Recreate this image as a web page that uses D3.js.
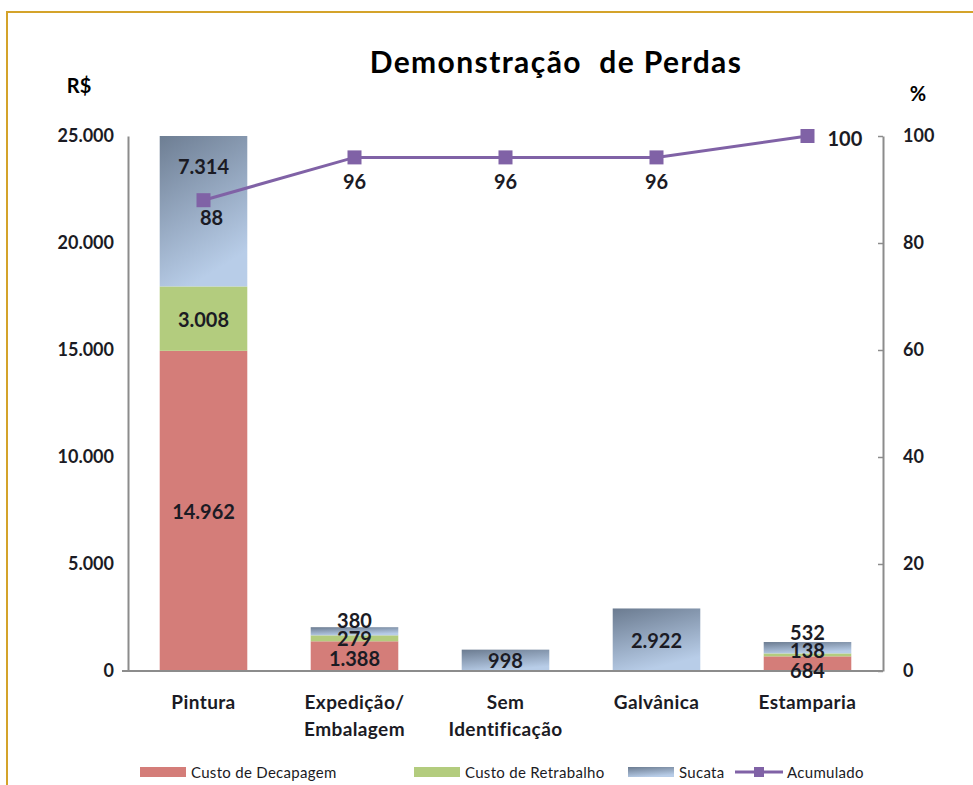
<!DOCTYPE html>
<html>
<head>
<meta charset="utf-8">
<script src="https://cdn.jsdelivr.net/npm/d3@7"></script>
<style>
  body { margin: 0; background: #fff; }
  svg { display: block; }
  text { font-family: Lato, "Open Sans", sans-serif; fill: #1b1b24; }
</style>
</head>
<body>
<div id="chart"></div>
<script>
// data
var categories = ["Pintura", "Expedição/\nEmbalagem", "Sem\nIdentificação", "Galvânica", "Estamparia"];
var decapagem = [14962, 1388, 0, 0, 684];
var retrabalho = [3008, 279, 0, 0, 138];
var sucata = [7314, 380, 998, 2922, 532];
var acumulado = [88, 96, 96, 96, 100];
var seriesNames = ["Custo de Decapagem", "Custo de Retrabalho", "Sucata", "Acumulado"];
var leftTicks = [0, 5000, 10000, 15000, 20000, 25000];
var rightTicks = [0, 20, 40, 60, 80, 100];

// label nudges (pixels) where Excel pushed labels apart
var labelShift = [
    [0, 0, -45],
    [2, 0, -11],
    [0, 0, 0],
    [0, 0, 0],
    [6, -5, -16]
];
var pctShift = [17, 24, 24, 24, 2];

var width = 973, height = 785;
var margin = {top: 136, right: 90, bottom: 114, left: 128};

var svg = d3.select("#chart").append("svg")
    .attr("width", width)
    .attr("height", height);

// gradient for sucata
var defs = svg.append("defs");
var grad = defs.append("linearGradient")
    .attr("id", "gSucata")
    .attr("x1", 0).attr("y1", 0).attr("x2", 0.35).attr("y2", 1);
grad.append("stop").attr("offset", "0%").attr("stop-color", "#6b7b90");
grad.append("stop").attr("offset", "100%").attr("stop-color", "#b8cde8");

var clip = defs.append("clipPath").attr("id", "plotClip");

// outer border
svg.append("rect")
    .attr("x", 7).attr("y", 12)
    .attr("width", 1000).attr("height", 1000)
    .attr("fill", "none")
    .attr("stroke", "#d4a32a")
    .attr("stroke-width", 2);

var plotW = width - margin.left - margin.right;
var plotH = height - margin.top - margin.bottom;

clip.append("rect").attr("x", margin.left).attr("y", margin.top)
    .attr("width", plotW).attr("height", plotH);

var x = d3.scaleBand()
    .domain(d3.range(categories.length))
    .range([margin.left, margin.left + plotW])
    .paddingInner(0.42)
    .paddingOuter(0.21);

var y = d3.scaleLinear().domain([0, 25000]).range([margin.top + plotH, margin.top]);
var y2 = d3.scaleLinear().domain([0, 100]).range([margin.top + plotH, margin.top]);

var colors = ["#d47d79", "#b3cc7e", "url(#gSucata)"];
var stackData = categories.map(function (c, i) {
    return {i: i, decapagem: decapagem[i], retrabalho: retrabalho[i], sucata: sucata[i]};
});
var stack = d3.stack().keys(["decapagem", "retrabalho", "sucata"])(stackData);

// bars
var gBars = svg.append("g").attr("clip-path", "url(#plotClip)");
stack.forEach(function (layer, k) {
    gBars.selectAll(null)
        .data(layer)
        .enter()
        .append("rect")
        .attr("x", function (d) { return x(d.data.i); })
        .attr("width", x.bandwidth())
        .attr("y", function (d) { return y(d[1]); })
        .attr("height", function (d) { return y(d[0]) - y(d[1]); })
        .attr("fill", colors[k]);
});

// axes
var fmt = function (v) { return d3.format(",")(v).replace(/,/g, "."); };
var axisL = svg.append("g")
    .attr("transform", "translate(" + margin.left + ",0)")
    .call(d3.axisLeft(y).tickValues(leftTicks).tickSize(0).tickPadding(14).tickFormat(fmt));
var axisR = svg.append("g")
    .attr("transform", "translate(" + (margin.left + plotW) + ",0)")
    .call(d3.axisRight(y2).tickValues(rightTicks).tickSize(0).tickPadding(20));
axisR.selectAll(".tick line").attr("x1", -5).attr("x2", 0);
[axisL, axisR].forEach(function (a) {
    a.select(".domain").attr("stroke", "#8c8c8c").attr("stroke-width", 2);
    a.selectAll(".tick line").attr("stroke", "#8c8c8c").attr("stroke-width", 1.5);
    a.selectAll("text")
        .style("font-size", "18px")
        .style("font-weight", "bold")
        .style("fill", "#1b1b24")
        .style("font-family", "Lato, sans-serif");
});

// baseline
svg.append("line")
    .attr("x1", margin.left - 6).attr("x2", margin.left + plotW)
    .attr("y1", y(0)).attr("y2", y(0))
    .attr("stroke", "#8c8c8c").attr("stroke-width", 2);

// bar value labels
var gLab = svg.append("g");
stack.forEach(function (layer, k) {
    layer.forEach(function (d) {
        var v = d[1] - d[0];
        if (v <= 0) return;
        var yc = (y(d[0]) + y(Math.min(d[1], 25000))) / 2;
        gLab.append("text")
            .attr("x", x(d.data.i) + x.bandwidth() / 2)
            .attr("y", yc + labelShift[d.data.i][k])
            .attr("text-anchor", "middle")
            .attr("dominant-baseline", "central")
            .style("font-size", "20px")
            .style("font-weight", "bold")
            .text(fmt(v));
    });
});

// accumulated line
var cx = function (i) { return x(i) + x.bandwidth() / 2; };
svg.append("path")
    .datum(acumulado)
    .attr("fill", "none")
    .attr("stroke", "#8062a6")
    .attr("stroke-width", 3)
    .attr("d", d3.line().x(function (d, i) { return cx(i); }).y(function (d) { return y2(d); }));
svg.selectAll(".mk")
    .data(acumulado)
    .enter()
    .append("rect")
    .attr("class", "mk")
    .attr("x", function (d, i) { return cx(i) - 7; })
    .attr("y", function (d) { return y2(d) - 7; })
    .attr("width", 14).attr("height", 14)
    .attr("fill", "#8062a6");
var last = acumulado.length - 1;
svg.selectAll(".pl")
    .data(acumulado)
    .enter()
    .append("text")
    .attr("x", function (d, i) { return i === last ? cx(i) + 20 : cx(i) + (i === 0 ? 8 : 0); })
    .attr("y", function (d, i) { return y2(d) + pctShift[i]; })
    .attr("text-anchor", function (d, i) { return i === last ? "start" : "middle"; })
    .attr("dominant-baseline", "central")
    .style("font-size", "20px")
    .style("font-weight", "bold")
    .text(function (d) { return d; });

// category labels
categories.forEach(function (c, i) {
    var t = svg.append("text")
        .attr("x", cx(i))
        .attr("y", y(0) + 38)
        .attr("text-anchor", "middle")
        .style("font-size", "19px")
        .style("font-weight", "bold")
        .style("letter-spacing", "0.4px");
    c.split("\n").forEach(function (line, j) {
        t.append("tspan").attr("x", cx(i)).attr("dy", j === 0 ? 0 : 27).text(line);
    });
});

// titles
svg.append("text")
    .attr("x", 556).attr("y", 73)
    .attr("text-anchor", "middle")
    .style("font-size", "30px")
    .style("font-weight", "bold")
    .style("letter-spacing", "1.4px")
    .style("white-space", "pre")
    .style("fill", "#000")
    .text("Demonstração  de Perdas");
svg.append("text")
    .attr("x", 79).attr("y", 93)
    .attr("text-anchor", "middle")
    .style("font-size", "20px").style("font-weight", "bold").style("fill", "#000")
    .text("R$");
svg.append("text")
    .attr("x", 918).attr("y", 101)
    .attr("text-anchor", "middle")
    .style("font-size", "20px").style("font-weight", "bold").style("fill", "#000")
    .text("%");

// legend
var legendX = [140, 414, 628, 735];
var lg = svg.append("g");
seriesNames.forEach(function (n, i) {
    var g = lg.append("g").attr("transform", "translate(" + legendX[i] + ",772)");
    if (i < 3) {
        g.append("rect").attr("x", 0).attr("y", -5).attr("width", 46).attr("height", 10)
            .attr("fill", colors[i]);
    } else {
        g.append("line").attr("x1", 0).attr("x2", 48).attr("y1", 0).attr("y2", 0)
            .attr("stroke", "#8062a6").attr("stroke-width", 3);
        g.append("rect").attr("x", 19).attr("y", -5).attr("width", 10).attr("height", 10)
            .attr("fill", "#8062a6");
    }
    g.append("text")
        .attr("x", i < 3 ? 51 : 52)
        .attr("y", 0)
        .attr("dominant-baseline", "central")
        .style("font-size", "15px")
        .style("letter-spacing", "0.3px")
        .text(n);
});
</script>
</body>
</html>
